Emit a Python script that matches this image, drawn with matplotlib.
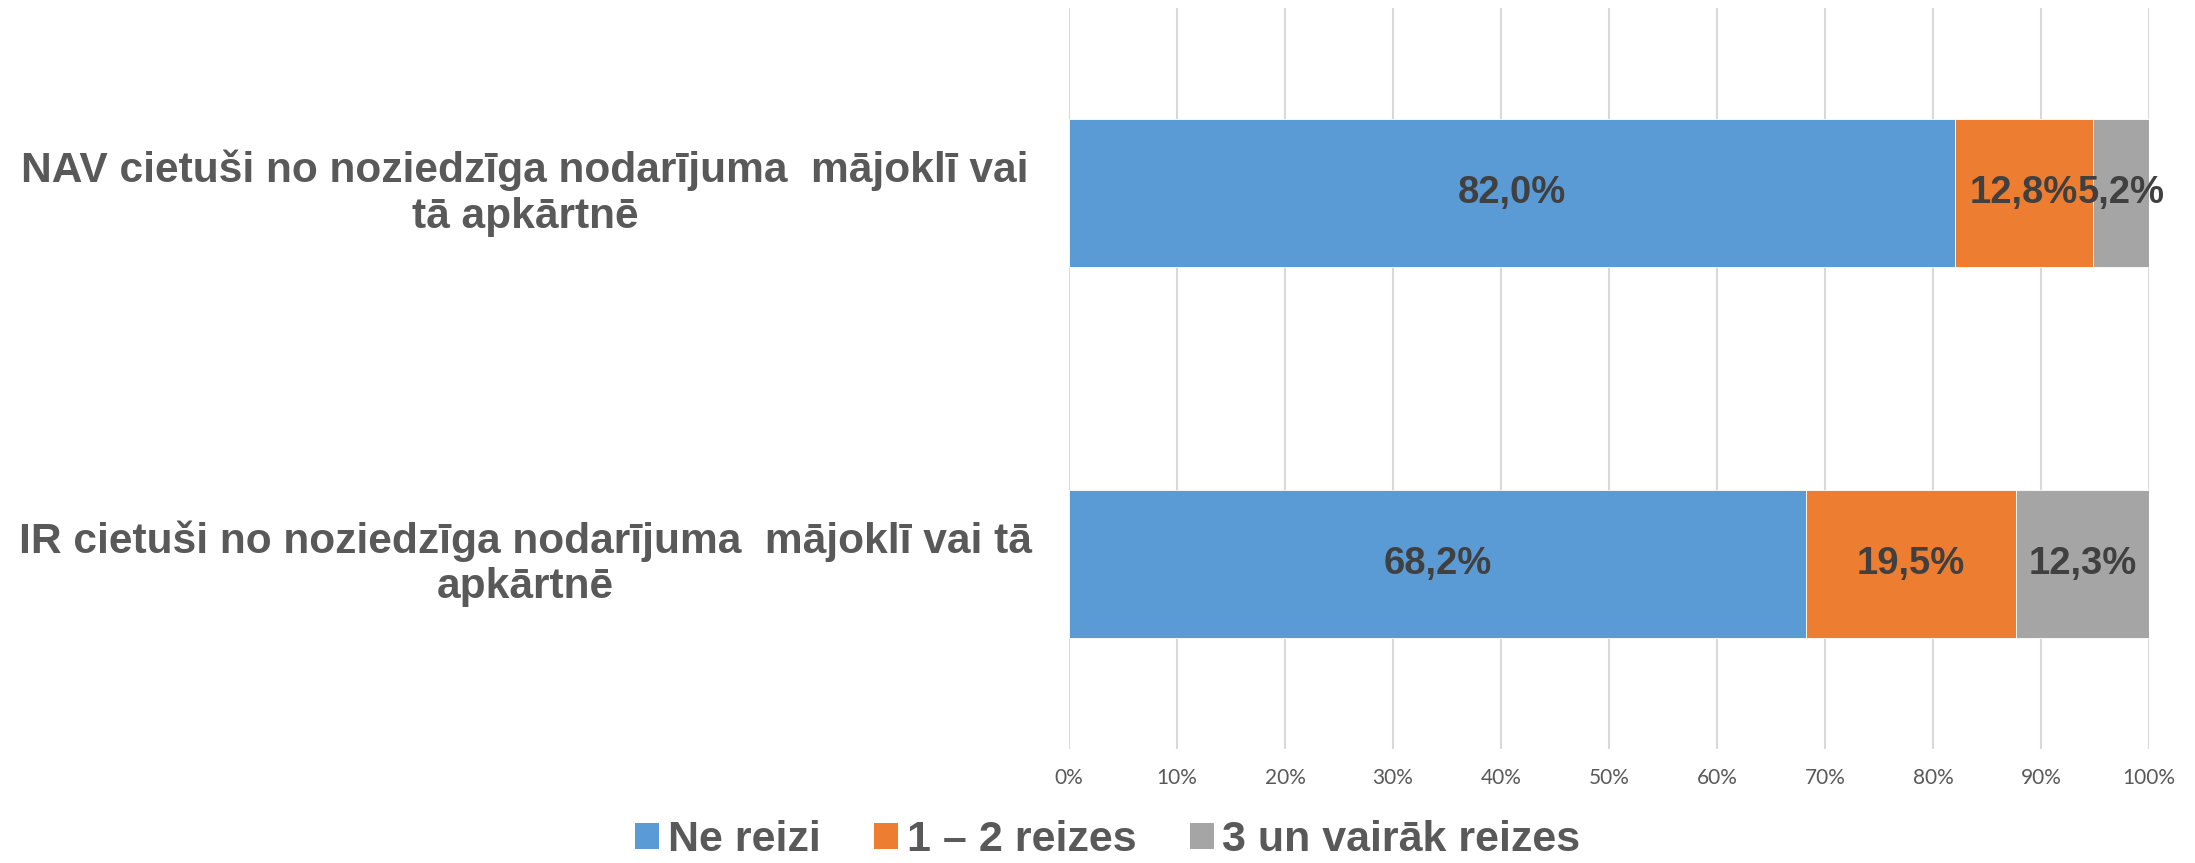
import matplotlib
matplotlib.use("Agg")
import matplotlib.pyplot as plt
import matplotlib.transforms as mtransforms
from matplotlib.patches import Patch
import numpy as np

categories = ["NAV cietuši no noziedzīga nodarījuma  mājoklī vai\ntā apkārtnē",
              "IR cietuši no noziedzīga nodarījuma  mājoklī vai tā\napkārtnē"]
series_names = ["Ne reizi", "1 – 2 reizes", "3 un vairāk reizes"]
ne_reizi = [82.0, 68.2]
viens_divi = [12.8, 19.5]
tris_vairak = [5.2, 12.3]
colors = ["#5B9BD5", "#ED7D31", "#A5A5A5"]
xticks = [0, 10, 20, 30, 40, 50, 60, 70, 80, 90, 100]

plt.rcParams['font.family'] = ['Liberation Sans', 'DejaVu Sans']

fig = plt.figure(figsize=(21.95, 8.63), dpi=100)
ax = fig.add_axes([1069/2195, 1-749/863, 1080/2195, 741/863])

y = np.arange(len(categories))
left = np.zeros(len(categories))
for vals, col in zip([ne_reizi, viens_divi, tris_vairak], colors):
    vals = np.array(vals)
    ax.barh(y, vals, left=left, height=0.4, color=col, edgecolor='white', linewidth=0.6, zorder=3)
    for yi, l, v in zip(y, left, vals):
        ax.text(l + v/2, yi, f"{v:.1f}%".replace('.', ','), ha='center', va='center',
                fontsize=27.5, fontweight='bold', color='#404040', zorder=4)
    left = left + vals

ax.set_xlim(0, 100)
ax.set_ylim(-0.5, 1.5)
ax.invert_yaxis()
ax.set_xticks(xticks)
ax.set_xticklabels([f"{t}%" for t in xticks], fontsize=15, color='#595959', family=['Lato', 'DejaVu Sans'])
ax.tick_params(axis='x', length=0, pad=14)
ax.set_yticks([])
for s in ax.spines.values():
    s.set_visible(False)
ax.grid(axis='x', color='#D9D9D9', linewidth=1.5, zorder=0)
ax.set_axisbelow(True)

trans = mtransforms.blended_transform_factory(fig.transFigure, ax.transData)
for yi, cat in zip(y, categories):
    ax.text(525/2195, yi, cat, transform=trans, ha='center', va='center', fontsize=30.6,
            fontweight='bold', color='#595959', linespacing=1.17)

handles = [Patch(facecolor=c, edgecolor='none') for c in colors]
leg = fig.legend(handles, series_names, loc='center', bbox_to_anchor=(1108/2195, 1-840/863),
                 ncol=3, frameon=False, borderpad=0, handlelength=0.55, handleheight=0.55,
                 handletextpad=0.2, columnspacing=1.25,
                 prop={'size': 31, 'weight': 'bold'})
for t in leg.get_texts():
    t.set_color('#595959')

fig.savefig("out.png", dpi=100)
